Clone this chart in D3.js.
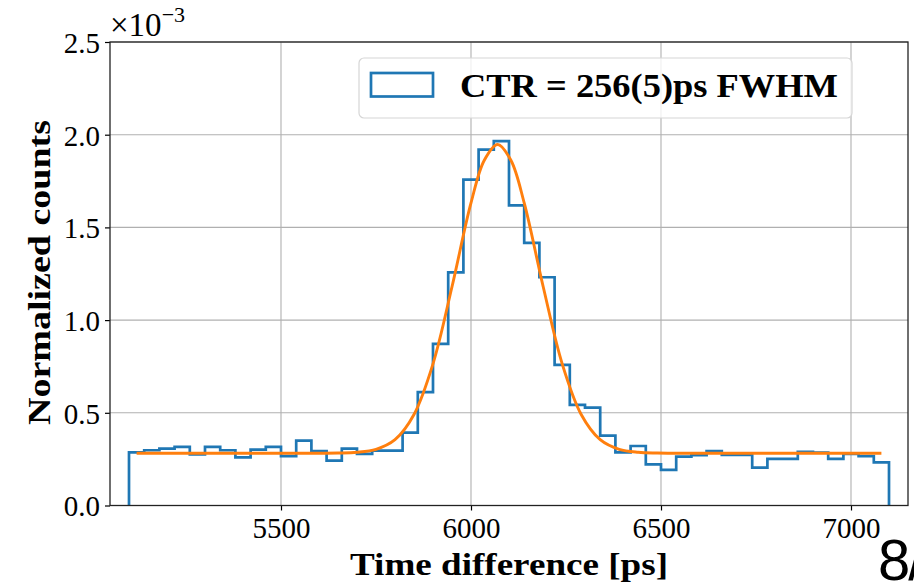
<!DOCTYPE html>
<html>
<head>
<meta charset="utf-8">
<script src="https://cdn.jsdelivr.net/npm/d3@7"></script>
<style>
  body { margin: 0; background: #fff; }
  svg { display: block; }
</style>
</head>
<body>
<svg id="chart" width="914" height="583"></svg>
<script>
// histogram: 50 bins of 40 ps from 5100 to 7100, values in units of 1e-3
let binStart = 5100;
let binWidth = 40;
let counts = [
    0.287, 0.298, 0.307, 0.316, 0.276, 0.316, 0.298, 0.260, 0.301, 0.316,
    0.266, 0.350, 0.293, 0.242, 0.307, 0.278, 0.296, 0.296, 0.393, 0.611,
    0.872, 1.257, 1.758, 1.920, 1.965, 1.619, 1.416, 1.231, 0.759, 0.543,
    0.528, 0.377, 0.287, 0.321, 0.222, 0.192, 0.264, 0.272, 0.294, 0.273,
    0.273, 0.204, 0.251, 0.251, 0.289, 0.285, 0.251, 0.278, 0.266, 0.233
];

// fit curve
let fitX = [5120, 5500, 5650, 5700, 5750, 5800, 5850, 5900, 5950, 6000, 6035, 6070,
            6105, 6140, 6190, 6240, 6290, 6340, 6390, 6440, 6490, 6600, 7080];
let fitY = [0.282, 0.282, 0.283, 0.287, 0.303, 0.355, 0.491, 0.764, 1.180, 1.632, 1.862, 1.947,
            1.862, 1.632, 1.180, 0.764, 0.491, 0.355, 0.303, 0.287, 0.283, 0.282, 0.282];

let xTicks = [5500, 6000, 6500, 7000];
let yTicks = [0.0, 0.5, 1.0, 1.5, 2.0, 2.5];
let legendLabel = "CTR = 256(5)ps FWHM";

let colorHist = '#1f77b4';
let colorFit = '#ff7f0e';
let colorGrid = '#b0b0b0';
let serif = "'Liberation Serif', 'Times New Roman', serif";

let margin = {left: 110, top: 42, right: 6, bottom: 77.5};
let W = 914, H = 583;

let xScale = d3.scaleLinear()
    .domain([5050, 7150])
    .range([margin.left, W - margin.right]);

let yScale = d3.scaleLinear()
    .domain([0, 2.5])
    .range([H - margin.bottom, margin.top]);

let svg = d3.select("#chart");

// grid
svg.append("g")
    .selectAll("line")
    .data(xTicks)
    .join("line")
    .attr("x1", d => xScale(d)).attr("x2", d => xScale(d))
    .attr("y1", yScale(0)).attr("y2", yScale(2.5))
    .attr("stroke", colorGrid).attr("stroke-width", 1.1);

svg.append("g")
    .selectAll("line")
    .data(yTicks)
    .join("line")
    .attr("x1", xScale.range()[0]).attr("x2", xScale.range()[1])
    .attr("y1", d => yScale(d)).attr("y2", d => yScale(d))
    .attr("stroke", colorGrid).attr("stroke-width", 1.1);

// histogram outline (step)
let stepPts = [[binStart, 0]];
counts.forEach((c, i) => {
    stepPts.push([binStart + i * binWidth, c]);
    stepPts.push([binStart + (i + 1) * binWidth, c]);
});
stepPts.push([binStart + counts.length * binWidth, 0]);

svg.append("path")
    .datum(stepPts)
    .attr("fill", "none")
    .attr("stroke", colorHist)
    .attr("stroke-width", 2.7)
    .attr("stroke-linejoin", "miter")
    .attr("d", d3.line().x(d => xScale(d[0])).y(d => yScale(d[1])));

// fit
svg.append("path")
    .datum(fitX.map((x, i) => [x, fitY[i]]))
    .attr("fill", "none")
    .attr("stroke", colorFit)
    .attr("stroke-width", 2.9)
    .attr("d", d3.line().curve(d3.curveCatmullRom).x(d => xScale(d[0])).y(d => yScale(d[1])));

// axes
let xAxis = svg.append("g")
    .attr("transform", "translate(0," + yScale(0) + ")")
    .call(d3.axisBottom(xScale).tickValues(xTicks).tickSize(5).tickPadding(6).tickFormat(d3.format("d")));

let yAxis = svg.append("g")
    .attr("transform", "translate(" + margin.left + ",0)")
    .call(d3.axisLeft(yScale).tickValues(yTicks).tickSize(5).tickPadding(5).tickFormat(d3.format(".1f")));

[xAxis, yAxis].forEach(a => {
    a.select(".domain").remove();
    a.selectAll(".tick line").attr("stroke", "#000").attr("stroke-width", 1.2);
    a.selectAll("text").attr("font-family", serif).attr("font-size", 29).attr("fill", "#000");
});
xAxis.selectAll("text").attr("dy", "0.71em").attr("y", 12);
yAxis.selectAll("text").attr("dy", "0.36em");

// spines
svg.append("rect")
    .attr("x", xScale.range()[0]).attr("y", yScale(2.5))
    .attr("width", xScale.range()[1] - xScale.range()[0])
    .attr("height", yScale(0) - yScale(2.5))
    .attr("fill", "none").attr("stroke", "#222").attr("stroke-width", 1.3);

// offset text
let off = svg.append("text")
    .attr("x", 110).attr("y", 36)
    .attr("font-family", serif).attr("font-size", 33).attr("fill", "#000");
off.append("tspan").attr("font-size", 33).text("×10");
off.append("tspan").attr("font-size", 22).attr("dy", -14).text("−3");

// legend
let lg = svg.append("g");
lg.append("rect")
    .attr("x", 359).attr("y", 58).attr("width", 493).attr("height", 60)
    .attr("rx", 5).attr("fill", "#fff").attr("fill-opacity", 0.8)
    .attr("stroke", "#d6d6d6").attr("stroke-width", 1.2);
lg.append("rect")
    .attr("x", 371).attr("y", 73).attr("width", 62).attr("height", 23.5)
    .attr("fill", "none").attr("stroke", colorHist).attr("stroke-width", 2.7);
lg.append("text")
    .attr("x", 460).attr("y", 97)
    .attr("font-family", serif).attr("font-weight", "bold").attr("font-size", 34)
    .attr("textLength", 378).attr("lengthAdjust", "spacingAndGlyphs")
    .text(legendLabel);

// axis labels
svg.append("text")
    .attr("x", 350).attr("y", 575)
    .attr("font-family", serif).attr("font-weight", "bold").attr("font-size", 31)
    .attr("textLength", 318).attr("lengthAdjust", "spacingAndGlyphs")
    .text("Time difference [ps]");

svg.append("text")
    .attr("transform", "translate(50,425) rotate(-90)")
    .attr("font-family", serif).attr("font-weight", "bold").attr("font-size", 31)
    .attr("textLength", 305).attr("lengthAdjust", "spacingAndGlyphs")
    .text("Normalized counts");

// page number bleeding in from the slide (cut at the right edge as in the source)
svg.append("text")
    .attr("x", 878).attr("y", 580)
    .attr("font-family", "'Liberation Sans', sans-serif").attr("font-size", 58)
    .attr("letter-spacing", -2)
    .text("8/");
</script>
</body>
</html>
